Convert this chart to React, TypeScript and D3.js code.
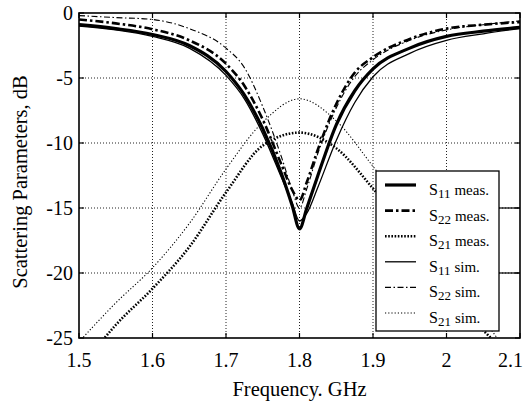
import React from 'react';
import * as d3 from 'd3';

// frequency grid (GHz) for reflection curves
const freqS = [1.5, 1.55, 1.6, 1.65, 1.7, 1.725, 1.75, 1.775, 1.79, 1.8, 1.81, 1.825, 1.85, 1.875, 1.9, 1.95, 2.0, 2.05, 2.1];
const s11Meas = [-0.9, -1.2, -1.65, -2.5, -4.5, -6.3, -8.9, -12.3, -14.8, -16.6, -15.0, -12.5, -8.6, -6.0, -4.3, -2.7, -1.8, -1.4, -1.1];
const s11Sim = [-1.0, -1.3, -1.8, -2.7, -4.8, -6.6, -9.3, -12.6, -14.6, -16.0, -15.4, -13.4, -9.8, -6.9, -4.9, -3.1, -2.1, -1.6, -1.2];
const s22Meas = [-0.5, -0.8, -1.25, -2.1, -3.9, -5.6, -8.2, -11.6, -13.6, -14.4, -13.0, -10.5, -7.0, -4.6, -3.4, -2.0, -1.2, -0.9, -0.7];
const s22Sim = [-0.2, -0.35, -0.5, -1.2, -2.7, -4.2, -7.2, -11.0, -13.6, -15.0, -13.5, -10.8, -7.3, -4.9, -3.6, -2.1, -1.3, -0.9, -0.6];

// frequency grid for transmission curves
const freqT = [1.5, 1.55, 1.6, 1.65, 1.7, 1.75, 1.8, 1.85, 1.9, 1.95, 2.0, 2.05, 2.1];
const s21Meas = [-27.5, -24.0, -21.2, -18.0, -13.8, -10.2, -9.2, -10.4, -13.5, -17.0, -21.0, -24.4, -27.0];
const s21Sim = [-25.3, -22.3, -19.6, -16.2, -12.0, -8.4, -6.6, -8.3, -11.8, -15.5, -19.5, -23.5, -27.5];

const xTicks = [1.5, 1.6, 1.7, 1.8, 1.9, 2, 2.1];
const yTicks = [0, -5, -10, -15, -20, -25];

const series = [
  { sub: '11', tag: 'meas.', f: freqS, v: s11Meas, w: 3.2, dash: null },
  { sub: '22', tag: 'meas.', f: freqS, v: s22Meas, w: 2.6, dash: '8,3,2.5,3' },
  { sub: '21', tag: 'meas.', f: freqT, v: s21Meas, w: 2.6, dash: '1.6,1.6' },
  { sub: '11', tag: 'sim.', f: freqS, v: s11Sim, w: 1.3, dash: null },
  { sub: '22', tag: 'sim.', f: freqS, v: s22Sim, w: 1.1, dash: '6,2.5,1.5,2.5' },
  { sub: '21', tag: 'sim.', f: freqT, v: s21Sim, w: 1.1, dash: '1.2,2' },
];

const W = 530, H = 405;
const m = { left: 79, right: 10, top: 13, bottom: 67 };
const serif = { fontFamily: "'Liberation Serif', 'Times New Roman', serif" };

export default function App() {
  const x = d3.scaleLinear().domain([1.5, 2.1]).range([m.left, W - m.right]);
  const y = d3.scaleLinear().domain([-25, 0]).range([H - m.bottom, m.top]);
  const [x0, x1] = x.range();
  const [y1, y0] = y.range();

  const line = (f: number[]) =>
    d3.line<number>().x((_, i) => x(f[i])).y(d => y(d)).curve(d3.curveMonotoneX);

  const lg = { x: 376, y: 171, w: 123, h: 160, row: 25.6 };

  return (
    <svg width={W} height={H} style={{ position: 'absolute', left: 0, top: 0, background: '#fff', ...serif }}>
      <defs>
        <clipPath id="plot"><rect x={x0} y={y0} width={x1 - x0} height={y1 - y0} /></clipPath>
      </defs>
      {/* grid */}
      <g stroke="#222" strokeWidth={1} strokeDasharray="1,2">
        {xTicks.slice(1, -1).map(t => <line key={'gx' + t} x1={x(t)} x2={x(t)} y1={y0} y2={y1} />)}
        {yTicks.slice(1, -1).map(t => <line key={'gy' + t} x1={x0} x2={x1} y1={y(t)} y2={y(t)} />)}
      </g>
      {/* ticks */}
      <g stroke="#000" strokeWidth={1.2}>
        {xTicks.map(t => (
          <g key={'tx' + t}>
            <line x1={x(t)} x2={x(t)} y1={y1} y2={y1 - 5} />
            <line x1={x(t)} x2={x(t)} y1={y0} y2={y0 + 5} />
          </g>
        ))}
        {yTicks.map(t => (
          <g key={'ty' + t}>
            <line x1={x0} x2={x0 + 5} y1={y(t)} y2={y(t)} />
            <line x1={x1} x2={x1 - 5} y1={y(t)} y2={y(t)} />
          </g>
        ))}
      </g>
      {/* curves */}
      <g clipPath="url(#plot)" fill="none" stroke="#000">
        {series.map((s, i) => (
          <path key={i} d={line(s.f)(s.v) || ''} strokeWidth={s.w} strokeDasharray={s.dash || undefined} />
        ))}
      </g>
      {/* frame */}
      <rect x={x0} y={y0} width={x1 - x0} height={y1 - y0} fill="none" stroke="#000" strokeWidth={1.6} />
      {/* tick labels */}
      <g fontSize={20} fill="#000" style={serif}>
        {xTicks.map((t, i) => {
          const last = i === xTicks.length - 1;
          return (
            <text key={'lx' + t} x={last ? x1 + 3 : x(t)} y={y1 + 29} textAnchor={last ? 'end' : 'middle'}>{String(t)}</text>
          );
        })}
        {yTicks.map(t => (
          <text key={'ly' + t} x={x0 - 6} y={y(t) + 6.5} textAnchor="end">{String(t)}</text>
        ))}
      </g>
      <text x={(x0 + x1) / 2} y={396} textAnchor="middle" fontSize={20.5} style={serif}>Frequency. GHz</text>
      <text transform="translate(27,182) rotate(-90)" textAnchor="middle" fontSize={20.5} style={serif}>Scattering Parameters, dB</text>
      {/* legend */}
      <g>
        <rect x={lg.x} y={lg.y} width={lg.w} height={lg.h} fill="#fff" stroke="#000" strokeWidth={1.3} />
        <g stroke="#000" strokeWidth={1.2}>
          {[-15, -20].map(t => <line key={'lr' + t} x1={lg.x + lg.w} x2={x1} y1={y(t)} y2={y(t)} />)}
        </g>
        {series.map((s, i) => {
          const cy = lg.y + 14 + i * lg.row;
          return (
            <g key={'lg' + i}>
              <line x1={lg.x + 9} x2={lg.x + 40} y1={cy} y2={cy} stroke="#000" strokeWidth={s.w} strokeDasharray={s.dash || undefined} />
              <text x={lg.x + 53} y={cy + 10} fontSize={16} style={serif}>
                S<tspan fontSize={13} dy={3}>{s.sub}</tspan>
                <tspan fontSize={15} dy={-3} dx={4}>{s.tag}</tspan>
              </text>
            </g>
          );
        })}
      </g>
    </svg>
  );
}
